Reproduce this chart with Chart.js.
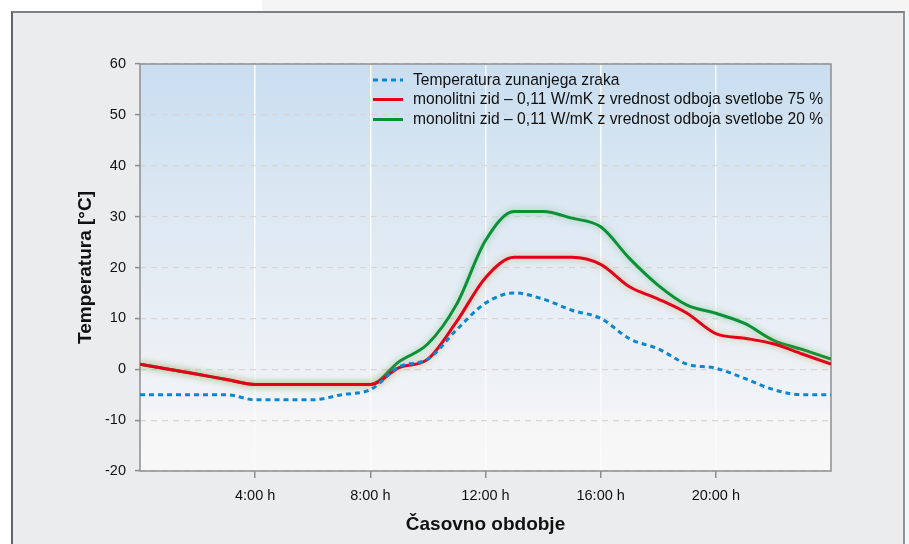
<!DOCTYPE html>
<html>
<head>
<meta charset="utf-8">
<script src="https://cdn.jsdelivr.net/npm/chart.js@4"></script>
<style>
  html, body { margin: 0; padding: 0; width: 909px; height: 544px; overflow: hidden; background: #f5f5f5; }
  #wTop { position: absolute; left: 0; top: 0; width: 262px; height: 11px; background: #ffffff; }
  #wLeft { position: absolute; left: 0; top: 0; width: 11px; height: 544px; background: #ffffff; }
  #box { position: absolute; left: 11px; top: 11px; width: 890px; height: 540px; background: #ebeced;
         border-left: 2px solid #5f686d; border-top: 2px solid #7a8287; border-right: 2px solid #8d9499; }
  #c { position: absolute; left: 0; top: 0; }
</style>
</head>
<body>
<div id="wTop"></div>
<div id="wLeft"></div>
<div id="box"></div>
<canvas id="c" width="909" height="544"></canvas>
<script>
// ---- data ----
const hours = [0,1,2,3,4,5,6,7,8,9,10,11,12,13,14,15,16,17,18,19,20,21,22,23,24];
const outsideTemp = [-5,-5,-5,-5,-6,-6,-6,-5,-4,0.5,2,7.8,13,15,13.8,11.6,10,6,4,1,0.2,-1.8,-4,-5,-5];
const wall75 = [1,0,-1,-2,-3,-3,-3,-3,-3,0.3,2,9.4,18,22,22,22,20.6,16.2,13.8,11,7,6.1,5,3,1];
const wall20 = [1,0,-1,-2,-3,-3,-3,-3,-3,1.5,5,12.8,25.3,31,31,29.7,28,21.8,16.5,12.6,11,9,5.7,3.9,2];
const seriesLabels = [
  'Temperatura zunanjega zraka',
  'monolitni zid – 0,11 W/mK z vrednost odboja svetlobe 75 %',
  'monolitni zid – 0,11 W/mK z vrednost odboja svetlobe 20 %'
];
const xTickLabels = {4:'4:00 h', 8:'8:00 h', 12:'12:00 h', 16:'16:00 h', 20:'20:00 h'};
const xTitle = 'Časovno obdobje';
const yTitle = 'Temperatura [°C]';

const pts = arr => hours.map((h, i) => ({x: h, y: arr[i]}));

const bgPlugin = {
  id: 'plotBg',
  beforeDraw(chart) {
    const {ctx, chartArea: a} = chart;
    const g = ctx.createLinearGradient(0, a.top, 0, a.bottom);
    g.addColorStop(0, '#c9def0');
    g.addColorStop(0.4, '#dfe9f3');
    g.addColorStop(0.75, '#edf1f6');
    g.addColorStop(0.84, '#f1f3f7');
    g.addColorStop(0.855, '#f5f5f6');
    g.addColorStop(1, '#f8f8f8');
    ctx.save();
    ctx.fillStyle = g;
    ctx.fillRect(a.left, a.top, a.right - a.left, a.bottom - a.top);
    ctx.restore();
  },
  beforeDatasetsDraw(chart) {
    const {ctx, chartArea: a} = chart;
    ctx.save();
    ctx.strokeStyle = '#8e8e8e';
    ctx.lineWidth = 1.5;
    ctx.strokeRect(a.left, a.top, a.right - a.left, a.bottom - a.top);
    ctx.restore();
  },
  beforeDatasetDraw(chart, args) {
    const ds = chart.data.datasets[args.index];
    const ctx = chart.ctx;
    ctx.save();
    if (ds.glow) {
      ctx.shadowColor = ds.glow;
      ctx.shadowBlur = 7;
    }
  },
  afterDatasetDraw(chart) {
    chart.ctx.restore();
  },
  afterDraw(chart) {
    const ctx = chart.ctx;
    const rows = [80, 99.5, 119.5];
    ctx.save();
    ctx.font = '14px "Liberation Sans", Arial, sans-serif';
    const w = ctx.measureText(seriesLabels[1]).width;
    const size = 14 * 410 / w;
    ctx.font = size.toFixed(2) + 'px "Liberation Sans", Arial, sans-serif';
    ctx.textBaseline = 'middle';
    chart.data.datasets.forEach((ds, i) => {
      const y = rows[i];
      ctx.strokeStyle = ds.borderColor;
      ctx.lineWidth = 3;
      ctx.setLineDash(ds.borderDash || []);
      ctx.beginPath();
      ctx.moveTo(373, y);
      ctx.lineTo(403, y);
      ctx.stroke();
      ctx.setLineDash([]);
      ctx.fillStyle = '#111111';
      ctx.fillText(ds.label, 413, y + 0.5);
    });
    ctx.restore();
  }
};

new Chart(document.getElementById('c'), {
  type: 'line',
  data: {
    datasets: [
      { label: seriesLabels[0], data: pts(outsideTemp), borderColor: '#0a87d2', borderWidth: 3,
        borderDash: [5, 4], pointRadius: 0, cubicInterpolationMode: 'monotone', order: 0 },
      { label: seriesLabels[1], data: pts(wall75), borderColor: '#e2001a', borderWidth: 3,
        pointRadius: 0, cubicInterpolationMode: 'monotone', order: 1, glow: 'rgba(190,140,40,0.55)' },
      { label: seriesLabels[2], data: pts(wall20), borderColor: '#0a9035', borderWidth: 3,
        pointRadius: 0, cubicInterpolationMode: 'monotone', order: 2, glow: 'rgba(40,160,60,0.45)' }
    ]
  },
  options: {
    responsive: false,
    animation: false,
    layout: { padding: { left: 0, right: 78, top: 64, bottom: 0 } },
    plugins: { legend: { display: false }, tooltip: { enabled: false } },
    scales: {
      x: {
        type: 'linear', min: 0, max: 24,
        afterFit(s) { s.height = 73; },
        afterBuildTicks(s) { s.ticks = [0,4,8,12,16,20,24].map(v => ({value: v})); },
        grid: {
          color: c => (c.tick && (c.tick.value === 0 || c.tick.value === 24)) ? 'rgba(0,0,0,0)' : '#fbfbfb',
          lineWidth: 1.5,
          tickColor: c => (c.tick && (c.tick.value === 0 || c.tick.value === 24)) ? 'rgba(0,0,0,0)' : '#8e8e8e',
          tickLength: 7,
          drawTicks: true
        },
        border: { display: false },
        ticks: {
          autoSkip: false, maxRotation: 0, padding: 9, color: '#111',
          font: { family: '"Liberation Sans", Arial, sans-serif', size: 14.5 },
          callback: v => xTickLabels[v] || ''
        },
        title: {
          display: true, text: xTitle, color: '#111',
          font: { family: '"Liberation Sans", Arial, sans-serif', size: 19, weight: 'bold' },
          padding: { top: 0, bottom: 8 }
        }
      },
      y: {
        min: -20, max: 60,
        afterFit(s) { s.width = 140; },
        ticks: {
          stepSize: 10, padding: 9, color: '#111',
          font: { family: '"Liberation Sans", Arial, sans-serif', size: 14.5 }
        },
        grid: {
          color: '#d6d6d6', lineWidth: 1.2, tickColor: '#8e8e8e', tickLength: 5,
          tickBorderDash: [], tickWidth: 1.5
        },
        border: { display: false, dash: [6, 5] },
        title: {
          display: true, text: yTitle, color: '#111',
          font: { family: '"Liberation Sans", Arial, sans-serif', size: 19, weight: 'bold' },
          padding: { top: 74, bottom: 0 }
        }
      }
    }
  },
  plugins: [bgPlugin]
});
</script>
</body>
</html>
